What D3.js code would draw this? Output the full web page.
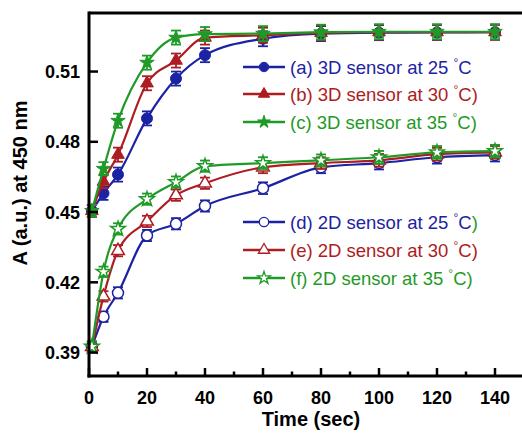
<!DOCTYPE html>
<html lang="en">
<head>
  <meta charset="UTF-8">
  <title>Absorbance vs time</title>
  <style>
    body { margin: 0; background: #fff; }
    .tick-label { font-family: Arial, "Liberation Sans", sans-serif; font-size: 18px; font-weight: bold; fill: #000; }
    .axis-title { font-family: Arial, "Liberation Sans", sans-serif; font-size: 20px; font-weight: bold; fill: #000; }
    .legend text { font-family: Arial, "Liberation Sans", sans-serif; font-size: 18.5px; }
  </style>
  <script src="https://cdnjs.cloudflare.com/ajax/libs/d3/7.8.5/d3.min.js"></script>
</head>
<body>
<svg id="chart" width="522" height="433"></svg>
<script>
  // sampling times (sec)
  var time = [1, 5, 10, 20, 30, 40, 60, 80, 100, 120, 140];

  // absorbance at 450 nm
  var a3D25 = [0.4505, 0.4580, 0.4660, 0.4900, 0.5070, 0.5170, 0.5240, 0.5262, 0.5266, 0.5267, 0.5268];
  var b3D30 = [0.4505, 0.4630, 0.4745, 0.5050, 0.5147, 0.5245, 0.5255, 0.5265, 0.5268, 0.5268, 0.5268];
  var c3D35 = [0.4505, 0.4685, 0.4890, 0.5138, 0.5245, 0.5260, 0.5262, 0.5268, 0.5270, 0.5270, 0.5270];
  var d2D25 = [0.3925, 0.4053, 0.4155, 0.4400, 0.4450, 0.4526, 0.4602, 0.4691, 0.4709, 0.4734, 0.4743];
  var e2D30 = [0.3925, 0.4140, 0.4335, 0.4460, 0.4572, 0.4623, 0.4691, 0.4709, 0.4721, 0.4747, 0.4755];
  var f2D35 = [0.3925, 0.4245, 0.4428, 0.4555, 0.4628, 0.4696, 0.4709, 0.4721, 0.4734, 0.4755, 0.4760];

  // error bars (+/-)
  var err3D = [0.0025, 0.0028, 0.0030, 0.0030, 0.0030, 0.0030, 0.0032, 0.0032, 0.0032, 0.0032, 0.0032];
  var err2D = [0.0022, 0.0022, 0.0024, 0.0024, 0.0024, 0.0024, 0.0025, 0.0025, 0.0027, 0.0027, 0.0027];

  var legendLabels = [
    "(a) 3D sensor at 25 ", "(b) 3D sensor at 30 ", "(c) 3D sensor at 35 ",
    "(d) 2D sensor at 25 ", "(e) 2D sensor at 30 ", "(f) 2D sensor at 35 "
  ];
  var legendTails = ["", ")", ")", ")", ")", ")"];

  var xTicks = [0, 20, 40, 60, 80, 100, 120, 140];
  var xMinor = [10, 30, 50, 70, 90, 110, 130];
  var yTicks = [0.39, 0.42, 0.45, 0.48, 0.51];

  var blue = "#1c23a3", red = "#ad1c22", green = "#1f9a27";

  var series = [
    { values: a3D25, err: err3D, color: blue,  shape: "circle",   open: false },
    { values: b3D30, err: err3D, color: red,   shape: "triangle", open: false },
    { values: c3D35, err: err3D, color: green, shape: "star",     open: false },
    { values: d2D25, err: err2D, color: blue,  shape: "circle",   open: true },
    { values: e2D30, err: err2D, color: red,   shape: "triangle", open: true },
    { values: f2D35, err: err2D, color: green, shape: "star",     open: true }
  ];
  var legendRows = [67, 94, 122, 222, 250, 278];
  var tailColors = ["", red, green, green, red, green];

  var chart = d3.select('#chart');
  var x = d3.scaleLinear().domain([0, 150]).range([89, 524]);
  var y = d3.scaleLinear().domain([0.38, 0.535]).range([376, 13]);

  function symbolFor(shape, big) {
    if (shape === "circle") return d3.symbol().type(d3.symbolCircle).size(big ? 95 : 70);
    if (shape === "triangle") return d3.symbol().type(d3.symbolTriangle).size(big ? 70 : 55);
    return d3.symbol().type(d3.symbolStar).size(big ? 65 : 50);
  }

  // -----------------------------------
  // curves, error bars and markers
  var line = d3.line()
    .x(function(d, i){ return x(time[i]); })
    .y(function(d){ return y(d); })
    .curve(d3.curveMonotoneX);

  var plot = chart.append('g');
  series.forEach(function(s) {
    var g = plot.append('g');
    g.append('path').datum(s.values)
      .attr('d', line)
      .attr('fill', 'none')
      .attr('stroke', s.color)
      .attr('stroke-width', 2.2);

    var eb = g.selectAll('.eb').data(s.values).enter().append('g');
    eb.append('line')
      .attr('x1', function(d, i){ return x(time[i]); })
      .attr('x2', function(d, i){ return x(time[i]); })
      .attr('y1', function(d, i){ return y(d - s.err[i]); })
      .attr('y2', function(d, i){ return y(d + s.err[i]); });
    eb.append('line')
      .attr('x1', function(d, i){ return x(time[i]) - 5; })
      .attr('x2', function(d, i){ return x(time[i]) + 5; })
      .attr('y1', function(d, i){ return y(d - s.err[i]); })
      .attr('y2', function(d, i){ return y(d - s.err[i]); });
    eb.append('line')
      .attr('x1', function(d, i){ return x(time[i]) - 5; })
      .attr('x2', function(d, i){ return x(time[i]) + 5; })
      .attr('y1', function(d, i){ return y(d + s.err[i]); })
      .attr('y2', function(d, i){ return y(d + s.err[i]); });
    eb.selectAll('line').attr('stroke', s.color).attr('stroke-width', 1.8);

    g.selectAll('.mk').data(s.values).enter().append('path')
      .attr('d', symbolFor(s.shape, true))
      .attr('transform', function(d, i){ return 'translate(' + x(time[i]) + ',' + y(d) + ')'; })
      .attr('fill', s.open ? '#fff' : s.color)
      .attr('stroke', s.color)
      .attr('stroke-width', s.open ? 1.5 : 1);
  });

  // -----------------------------------
  // axes: ticks point inwards
  var axisG = chart.append('g');
  axisG.append('line').attr('x1', 89).attr('x2', 522).attr('y1', 13).attr('y2', 13)
    .attr('stroke', '#000').attr('stroke-width', 3);
  axisG.append('line').attr('x1', 89).attr('x2', 89).attr('y1', 11.5).attr('y2', 377.5)
    .attr('stroke', '#000').attr('stroke-width', 3);
  axisG.append('line').attr('x1', 87.5).attr('x2', 522).attr('y1', y(0.38)).attr('y2', y(0.38))
    .attr('stroke', '#000').attr('stroke-width', 3);

  axisG.selectAll('.xt').data(xTicks).enter().append('line')
    .attr('x1', function(d){ return x(d); }).attr('x2', function(d){ return x(d); })
    .attr('y1', y(0.38)).attr('y2', y(0.38) - 8)
    .attr('stroke', '#000').attr('stroke-width', 2.5);
  axisG.selectAll('.xm').data(xMinor).enter().append('line')
    .attr('x1', function(d){ return x(d); }).attr('x2', function(d){ return x(d); })
    .attr('y1', y(0.38)).attr('y2', y(0.38) - 4.5)
    .attr('stroke', '#000').attr('stroke-width', 2.5);
  axisG.selectAll('.yt').data(yTicks).enter().append('line')
    .attr('x1', 89).attr('x2', 98)
    .attr('y1', function(d){ return y(d); }).attr('y2', function(d){ return y(d); })
    .attr('stroke', '#000').attr('stroke-width', 2.5);

  axisG.selectAll('.xl').data(xTicks).enter().append('text')
    .attr('class', 'tick-label')
    .attr('x', function(d){ return x(d); })
    .attr('y', 404)
    .attr('text-anchor', 'middle')
    .text(function(d){ return d; });
  axisG.selectAll('.yl').data(yTicks).enter().append('text')
    .attr('class', 'tick-label')
    .attr('x', 80)
    .attr('y', function(d){ return y(d) + 6.5; })
    .attr('text-anchor', 'end')
    .text(function(d){ return d.toFixed(2); });

  chart.append('text').attr('class', 'axis-title')
    .attr('x', 311).attr('y', 426).attr('text-anchor', 'middle')
    .text('Time (sec)');
  chart.append('text').attr('class', 'axis-title')
    .attr('transform', 'translate(27,183) rotate(-90)')
    .attr('text-anchor', 'middle')
    .text('A (a.u.) at 450 nm');

  // -----------------------------------
  // legend
  var legend = chart.append('g').attr('class', 'legend');
  series.forEach(function(s, i) {
    var ly = legendRows[i];
    legend.append('line').attr('x1', 243).attr('x2', 285).attr('y1', ly).attr('y2', ly)
      .attr('stroke', s.color).attr('stroke-width', 2.5);
    legend.append('path')
      .attr('d', symbolFor(s.shape, false))
      .attr('transform', 'translate(264,' + ly + ')')
      .attr('fill', s.open ? '#fff' : s.color)
      .attr('stroke', s.color)
      .attr('stroke-width', s.open ? 1.3 : 1);
    var t = legend.append('text').attr('x', 290).attr('y', ly + 6.5).attr('fill', s.color);
    t.append('tspan').text(legendLabels[i]);
    t.append('tspan').attr('dy', -7).attr('font-size', 12).text('\u00B0');
    t.append('tspan').attr('dy', 7).text('C');
    if (legendTails[i]) t.append('tspan').attr('fill', tailColors[i]).text(legendTails[i]);
  });
</script>
</body>
</html>
